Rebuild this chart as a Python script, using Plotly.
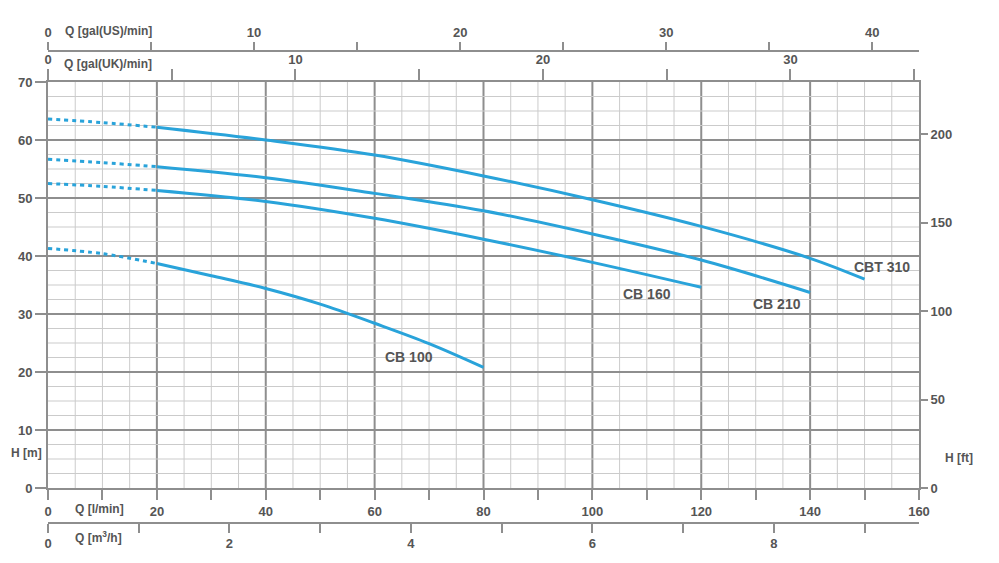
import plotly.graph_objects as go

# ---------------- data ----------------
q_inlet = [0, 10, 20]                      # l/min, dotted part of each curve

cbt310_q = [20, 40, 60, 80, 100, 120, 140, 150]
cbt310_h = [62.2, 60.0, 57.4, 53.8, 49.7, 45.1, 39.6, 36.0]
cbt310_h_low = [63.6, 63.0, 62.2]

cb210_q = [20, 40, 60, 80, 100, 120, 140]
cb210_h = [55.4, 53.5, 50.8, 47.8, 43.8, 39.3, 33.7]
cb210_h_low = [56.7, 56.1, 55.4]

cb160_q = [20, 40, 60, 80, 100, 120]
cb160_h = [51.3, 49.4, 46.5, 42.9, 38.9, 34.6]
cb160_h_low = [52.5, 52.0, 51.3]

cb100_q = [20, 30, 40, 50, 60, 70, 80]
cb100_h = [38.7, 36.6, 34.4, 31.7, 28.4, 24.9, 20.8]
cb100_h_low = [41.3, 40.4, 38.7]

labels = ["CB 100", "CB 160", "CB 210", "CBT 310"]
label_q = [66.3, 110.0, 133.9, 153.2]
label_h = [22.6, 33.4, 31.7, 38.1]

lmin_ticks = list(range(0, 161, 10))
m_ticks = list(range(0, 71, 10))
ft_ticks = [0, 50, 100, 150, 200]
ukgal_ticks = list(range(0, 36, 5))
usgal_ticks = list(range(0, 41, 5))
m3h_ticks = list(range(0, 10))

# unit conversions
L_PER_UKGAL = 4.54609
L_PER_USGAL = 3.78541
M_PER_FT = 0.3048
Q_MAX = 160
H_MAX = 70

# ---------------- styling ----------------
# the page body has an 8px default margin; positions below are screen pixels
OFF = 8
W, H = 999 - OFF, 563 - OFF
AREA_L, AREA_R, AREA_T, AREA_B = 48, 919, 45, 530     # screen px of the plotting area
ML, MT = AREA_L - OFF, AREA_T - OFF
MR, MB = W - (AREA_R - OFF), H - (AREA_B - OFF)
PW, PH = AREA_R - AREA_L, AREA_B - AREA_T
PLOT_TOP_PX, PLOT_BOT_PX = 82, 488
US_AXIS_PX, M3H_AXIS_PX = 51, 522.7

def py(ypx):
    return (AREA_B - ypx) / PH

def px(xpx):
    return (xpx - AREA_L) / PW

CURVE = "#29a3da"
TXT = "#555555"
AXC = "#8e8e8e"
MINC = "#cbcbcb"
FONT = "Liberation Sans"
tickfont = dict(family=FONT, size=13, color=TXT, weight="bold")

fig = go.Figure()

series = [
    (cbt310_q, cbt310_h, cbt310_h_low),
    (cb210_q, cb210_h, cb210_h_low),
    (cb160_q, cb160_h, cb160_h_low),
    (cb100_q, cb100_h, cb100_h_low),
]
for q, h, hl in series:
    fig.add_trace(go.Scatter(x=q_inlet, y=hl, mode="lines",
                             line=dict(color=CURVE, width=3, dash="4px,4px", shape="spline"),
                             showlegend=False, hoverinfo="skip"))
    fig.add_trace(go.Scatter(x=q, y=h, mode="lines",
                             line=dict(color=CURVE, width=3, shape="spline"),
                             showlegend=False, hoverinfo="skip"))

# invisible traces so every auxiliary axis is drawn
for xa, ya in [("x2", "y"), ("x3", "y"), ("x4", "y"), ("x", "y2")]:
    fig.add_trace(go.Scatter(x=[0], y=[0], xaxis=xa, yaxis=ya, mode="markers",
                             marker=dict(opacity=0), showlegend=False, hoverinfo="skip"))

# grid as shapes
shapes = []
q = 5
while q < Q_MAX:
    major = q % 20 == 0
    shapes.append(dict(type="line", xref="x", yref="y", x0=q, x1=q, y0=0, y1=H_MAX,
                       line=dict(color=AXC if major else MINC, width=2 if major else 1),
                       layer="below"))
    q += 5
hh = 2.5
while hh < H_MAX:
    major = abs(hh % 10) < 1e-9
    shapes.append(dict(type="line", xref="x", yref="y", x0=0, x1=Q_MAX, y0=hh, y1=hh,
                       line=dict(color=AXC if major else MINC, width=2 if major else 1),
                       layer="below"))
    hh += 2.5

ydom = [py(PLOT_BOT_PX), py(PLOT_TOP_PX)]

def ticktext(vals, step):
    return [str(v) if v % step == 0 else "" for v in vals]

common = dict(showgrid=False, zeroline=False, showline=True, linecolor=AXC, linewidth=2,
              ticks="outside", tickcolor=AXC, tickwidth=2, tickfont=tickfont,
              automargin=False)

fig.update_layout(
    width=W, height=H,
    margin=dict(l=ML, r=MR, t=MT, b=MB, autoexpand=False),
    paper_bgcolor="white", plot_bgcolor="white",
    shapes=shapes,
    xaxis=dict(range=[0, Q_MAX], domain=[0, 1], anchor="y", side="bottom",
               tickvals=lmin_ticks, ticktext=ticktext(lmin_ticks, 20), ticklen=10, **common),
    yaxis=dict(range=[0, H_MAX], domain=ydom, anchor="x", side="left",
               tickvals=m_ticks, ticklen=11, **common),
    yaxis2=dict(range=[0, H_MAX / M_PER_FT], overlaying="y", anchor="x", side="right",
                tickvals=ft_ticks, ticklen=7, **common),
    xaxis2=dict(range=[0, Q_MAX / L_PER_UKGAL], overlaying="x", anchor="y", side="top",
                tickvals=ukgal_ticks, ticktext=ticktext(ukgal_ticks, 10), ticklen=11, **common),
    xaxis3=dict(range=[0, Q_MAX / L_PER_USGAL], overlaying="x", anchor="free",
                position=py(US_AXIS_PX), side="top",
                tickvals=usgal_ticks, ticktext=ticktext(usgal_ticks, 10), ticklen=8, **common),
    xaxis4=dict(range=[0, Q_MAX * 60 / 1000], overlaying="x", anchor="free",
                position=py(M3H_AXIS_PX), side="bottom",
                tickvals=m3h_ticks, ticktext=ticktext(m3h_ticks, 2), ticklen=9, **common),
)

annfont = dict(family=FONT, size=12, color=TXT, weight="bold")
ann = [
    dict(text="Q [gal(US)/min]", x=px(63), y=py(31), xanchor="left"),
    dict(text="Q [gal(UK)/min]", x=px(62), y=py(64), xanchor="left"),
    dict(text="Q [l/min]", x=px(73), y=py(509), xanchor="left"),
    dict(text="Q [m<sup>3</sup>/h]", x=px(73), y=py(537), xanchor="left"),
    dict(text="H [m]", x=px(9), y=py(453), xanchor="left"),
    dict(text="H [ft]", x=px(959), y=py(458), xanchor="center"),
]
for a in ann:
    fig.add_annotation(xref="paper", yref="paper", showarrow=False, yanchor="middle",
                       font=annfont, **a)

for t, xq, yh in zip(labels, label_q, label_h):
    fig.add_annotation(text=t, x=xq, y=yh, xref="x", yref="y", showarrow=False,
                       font=dict(family=FONT, size=14, color=TXT, weight="bold"))

fig.write_html("out.html")
